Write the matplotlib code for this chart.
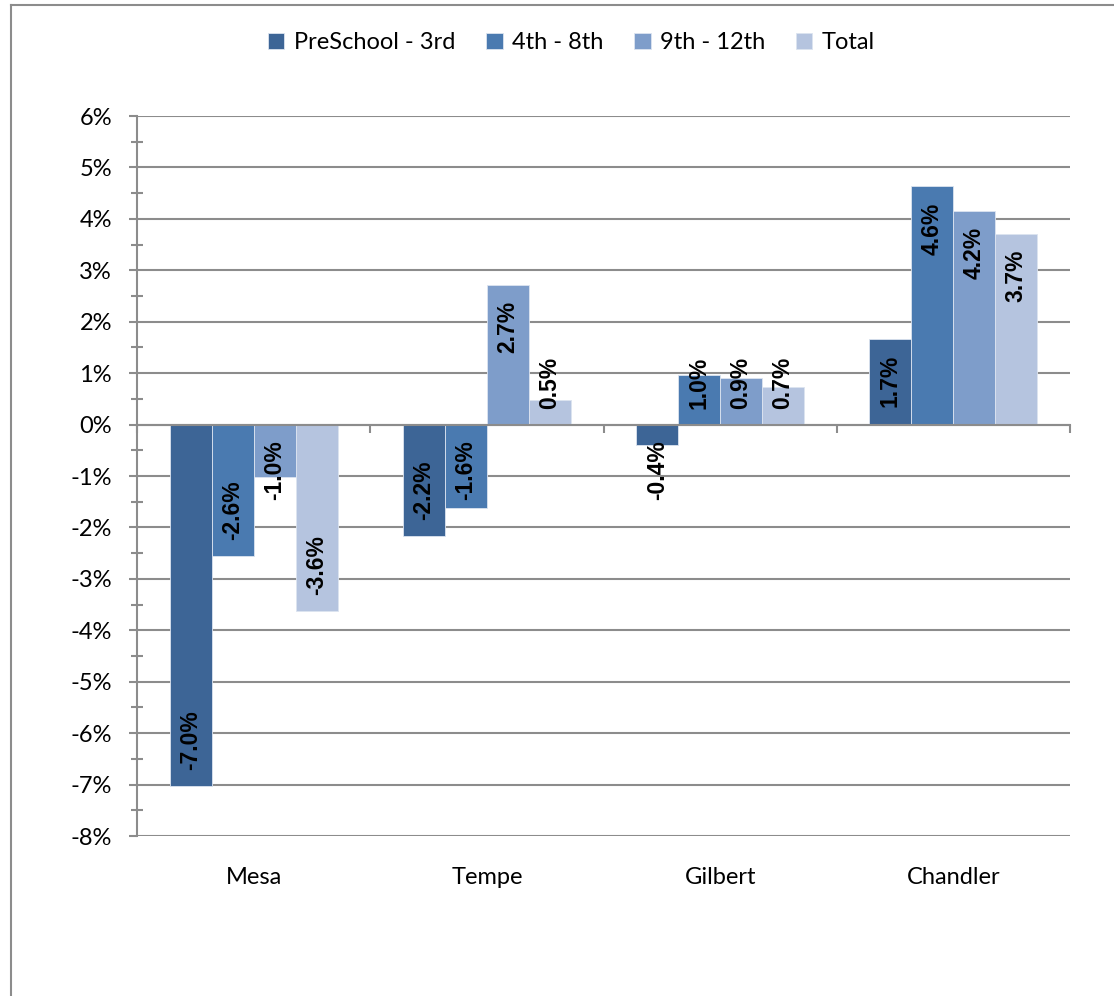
import numpy as np
import matplotlib
matplotlib.use('Agg')
import matplotlib.pyplot as plt
from matplotlib.lines import Line2D
from matplotlib.ticker import MultipleLocator, FuncFormatter

plt.rcParams['font.family'] = ['Lato', 'DejaVu Sans']

# data (percent change)
cities = ['Mesa', 'Tempe', 'Gilbert', 'Chandler']
series_names = ['PreSchool - 3rd', '4th - 8th', '9th - 12th', 'Total']
preschool_3rd = [-7.02, -2.16, -0.40, 1.67]
grade_4_8 = [-2.56, -1.63, 0.97, 4.63]
grade_9_12 = [-1.01, 2.72, 0.91, 4.16]
total = [-3.62, 0.48, 0.73, 3.71]
colors = ['#3D6596', '#4A7AB0', '#7E9DCA', '#B5C4DF']

series = [preschool_3rd, grade_4_8, grade_9_12, total]

fig = plt.figure(figsize=(11.14, 9.96), dpi=100)
ax = fig.add_axes([137/1114, 1 - 836/996, (1070 - 137)/1114, (836 - 116)/996])

x = np.arange(len(cities))
w = 0.18
grid_col = '#8C8C8C'
fs = 17

bars = []
for i, vals in enumerate(series):
    b = ax.bar(x + (i - 1.5)*w, vals, w, color=colors[i], label=series_names[i],
               edgecolor='#DCE4F0', linewidth=0.6, zorder=3)
    bars.append(b)

ax.set_xlim(-0.5, 3.5)
ax.set_ylim(-8, 6)
ax.yaxis.set_major_locator(MultipleLocator(1))
ax.yaxis.set_minor_locator(MultipleLocator(0.5))
ax.yaxis.set_major_formatter(FuncFormatter(lambda v, p: '%d%%' % round(v)))
ax.grid(axis='y', which='major', color=grid_col, linewidth=1.5, zorder=0)
ax.set_axisbelow(True)

for s in ['top', 'right']:
    ax.spines[s].set_visible(False)
ax.spines['left'].set_color(grid_col)
ax.spines['left'].set_linewidth(1.5)
ax.spines['bottom'].set_position(('data', 0))
ax.spines['bottom'].set_color(grid_col)
ax.spines['bottom'].set_linewidth(1.5)
ax.spines['bottom'].set_zorder(4)

ax.set_xticks(np.arange(-0.5, 4.0, 1.0))
ax.set_xticklabels([])
ax.tick_params(axis='x', direction='out', length=6, width=1.5, color=grid_col)
ax.tick_params(axis='y', which='major', direction='out', length=6, width=1.5,
               color=grid_col, labelsize=fs, pad=12)
ax.tick_params(axis='y', which='minor', direction='inout', length=9, width=1.5,
               color=grid_col)

for xi, name in zip(x, cities):
    ax.text(xi, -0.058, name, transform=ax.get_xaxis_transform(),
            ha='center', va='center', fontsize=fs)

# data labels, rotated, inside end (pushed out of short bars like Excel does)
fig.canvas.draw()
r = fig.canvas.get_renderer()
p0 = ax.transData.transform((0, 0))[1]
p1 = ax.transData.transform((0, 1))[1]
per = p1 - p0
off = 16 / per
for i, vals in enumerate(series):
    for xi, v in zip(x + (i - 1.5)*w, vals):
        t = ax.text(xi, 0, '%.1f%%' % v, rotation=90, ha='center', va='top',
                    fontsize=16.5, fontweight='bold', zorder=5,
                    family=['Liberation Sans', 'DejaVu Sans'])
        h = t.get_window_extent(renderer=r).height / per
        if v >= 0:
            t.set_y(max(v - off, off + h))
            t.set_va('top')
        else:
            t.set_y(min(v + off, -(off + h)))
            t.set_va('bottom')

fig.legend(handles=[b for b in bars], labels=series_names, loc='center',
           bbox_to_anchor=(0.513, 0.957), ncol=4, frameon=False, fontsize=fs,
           handlelength=0.7, handleheight=0.7, handletextpad=0.4,
           columnspacing=1.3)

# outer chart frame
fig.add_artist(Line2D([11/1114, 1], [1 - 5/996, 1 - 5/996], color='#8C8C8C', lw=1.5))
fig.add_artist(Line2D([11/1114, 11/1114], [0, 1 - 5/996], color='#8C8C8C', lw=1.5))

fig.savefig('out.png', dpi=100)
